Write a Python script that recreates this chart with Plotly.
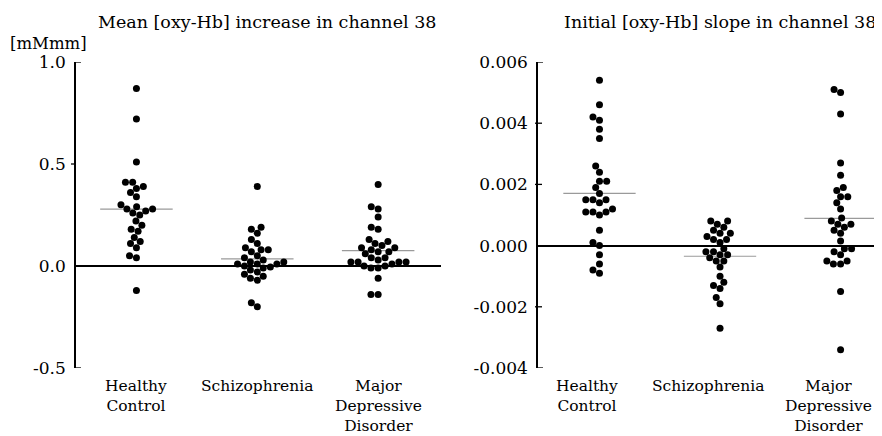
import numpy as np
import plotly.graph_objects as go

# ---------------- data ----------------
categories = ["Healthy<br>Control", "Schizophrenia", "Major<br>Depressive<br>Disorder"]

increase_hc = [0.87, 0.72, 0.51, 0.41, 0.41, 0.39, 0.38, 0.36, 0.34, 0.30, 0.29, 0.28, 0.28,
               0.27, 0.26, 0.25, 0.22, 0.20, 0.18, 0.17, 0.14, 0.12, 0.11, 0.09, 0.05, 0.04, -0.12]
increase_sz = [0.39, 0.19, 0.18, 0.16, 0.13, 0.11, 0.09, 0.08, 0.08, 0.07, 0.05, 0.04, 0.03,
               0.02, 0.02, 0.01, 0.01, 0.01, 0.0, -0.005, -0.01, -0.02, -0.03, -0.04, -0.05,
               -0.06, -0.07, -0.18, -0.20]
increase_mdd = [0.40, 0.29, 0.28, 0.24, 0.19, 0.18, 0.13, 0.12, 0.11, 0.10, 0.09, 0.09, 0.08,
                0.07, 0.07, 0.06, 0.04, 0.04, 0.03, 0.02, 0.02, 0.02, 0.02, 0.01, 0.0, 0.0,
                -0.01, -0.01, -0.06, -0.14, -0.14]

slope_hc = [0.0054, 0.0046, 0.0042, 0.0041, 0.0038, 0.0035, 0.0026, 0.0024, 0.0021, 0.0021,
            0.0019, 0.0017, 0.0015, 0.0015, 0.0015, 0.0014, 0.0012, 0.0011, 0.0011, 0.0011,
            0.0010, 0.0005, 0.0001, 0.0, -0.0003, -0.0006, -0.0008, -0.0009]
slope_sz = [0.0008, 0.0008, 0.0007, 0.0006, 0.0005, 0.0004, 0.0004, 0.0003, 0.0002, 0.0002,
            0.0001, -0.0001, -0.0002, -0.0002, -0.0003, -0.0003, -0.0004, -0.0005, -0.0005,
            -0.0007, -0.0010, -0.0012, -0.0013, -0.0014, -0.0017, -0.0019, -0.0027]
slope_mdd = [0.0051, 0.0050, 0.0043, 0.0027, 0.0023, 0.0019, 0.0018, 0.0016, 0.0016, 0.0014,
             0.0012, 0.0009, 0.0008, 0.0007, 0.0007, 0.0006, 0.0005, 0.0004, 0.00015, -0.0001,
             -0.0001, -0.0002, -0.0003, -0.0005, -0.0005, -0.0006, -0.0006, -0.0015, -0.0034]

left_tickvals = [-0.5, 0.0, 0.5, 1.0]
left_ticktext = ["-0.5", "0.0", "0.5", "1.0"]
right_tickvals = [-0.004, -0.002, 0.0, 0.002, 0.004, 0.006]
right_ticktext = ["-0.004", "-0.002", "0.000", "0.002", "0.004", "0.006"]

left_title = "Mean [oxy-Hb] increase in channel 38"
right_title = "Initial [oxy-Hb] slope in channel 38"
unit_label = "[mMmm]"

# ---------------- layout geometry ----------------
W, H = 882, 436
OFF = 8  # the page's default body margin shifts the figure by this many px
FONT = "DejaVu Serif"
top_px, bot_px = 62 - OFF, 368 - OFF
ydom = [1 - bot_px / H, 1 - top_px / H]
left_xdom = [(76 - OFF) / W, (441 - OFF) / W]
right_xdom = [(538 - OFF) / W, 1.0]
left_xrange = [-0.5, 2.52]
right_xrange = [-0.51, 2.41]
left_yrange = [-0.5, 1.0]
right_yrange = [-0.004, 0.006]

DIAM = 7.2  # swarm spacing in px


def swarm_offsets(values, px_per_y, px_per_x, diam=DIAM):
    vals = np.asarray(values, dtype=float)
    order = np.argsort(vals)
    placed = []
    xs = np.zeros(len(vals))
    for i in order:
        y = vals[i] * px_per_y
        cands = [0.0]
        for px, py in placed:
            dy = abs(py - y)
            if dy < diam:
                dx = np.sqrt(diam ** 2 - dy ** 2)
                cands += [px + dx, px - dx]
        cands.sort(key=lambda c: (abs(c), c))
        chosen = 0.0
        for c in cands:
            if all((c - px) ** 2 + (y - py) ** 2 >= diam ** 2 - 1e-6 for px, py in placed):
                chosen = c
                break
        xs[i] = chosen
        placed.append((chosen, y))
    return xs / px_per_x


fig = go.Figure()

# (x axis, y axis, groups, domain, x range, y range, tick values, label shift, tick span)
panels = [
    ("x", "y", [increase_hc, increase_sz, increase_mdd], left_xdom, left_xrange, left_yrange,
     left_tickvals, 0, (-5, 0)),
    ("x2", "y2", [slope_hc, slope_sz, slope_mdd], right_xdom, right_xrange, right_yrange,
     right_tickvals, -12, (-3, 4)),
]

plot_h = bot_px - top_px
shapes = []
annotations = []
for xa, ya, groups, xdom, xr, yr, tvals, lab_shift, tspan in panels:
    px_per_x = (xdom[1] - xdom[0]) * W / (xr[1] - xr[0])
    px_per_y = plot_h / (yr[1] - yr[0])
    for gi, vals in enumerate(groups):
        offs = swarm_offsets(vals, px_per_y, px_per_x)
        m = float(np.mean(vals))
        fig.add_trace(go.Scatter(
            x=[gi - 0.30, gi + 0.30], y=[m, m], mode="lines",
            line=dict(color="#9a9a9a", width=1.2),
            xaxis=xa, yaxis=ya, showlegend=False, hoverinfo="skip"))
        fig.add_trace(go.Scatter(
            x=gi + offs, y=vals, mode="markers",
            marker=dict(color="black", size=7, line=dict(width=0)),
            xaxis=xa, yaxis=ya, showlegend=False))
        annotations.append(dict(
            text=categories[gi], xref=xa, yref="paper", x=gi, xshift=lab_shift,
            y=1 - 367 / H, yanchor="top", xanchor="center", showarrow=False,
            align="center", font=dict(family=FONT, size=15.5, color="black")))
    # interior ticks; the axis ends get small inward brackets
    for v in tvals:
        if v == 0:
            continue
        inner = v not in (yr[0], yr[1])
        shapes.append(dict(
            type="line", xref=f"{xa} domain", yref=ya, xsizemode="pixel", xanchor=0,
            x0=tspan[0] if inner else 0, x1=tspan[1] if inner else 5, y0=v, y1=v,
            line=dict(color="black", width=1.3)))

xcommon = dict(tickvals=[0, 1, 2], ticktext=["", "", ""], showgrid=False, zeroline=False,
               showline=False, ticks="", fixedrange=True, automargin=False)
ycommon = dict(showgrid=False, showline=True, linecolor="black", linewidth=1.5,
               ticks="outside", ticklen=5, tickwidth=1, tickcolor="rgba(0,0,0,0)",
               zeroline=True, zerolinecolor="black", zerolinewidth=2, automargin=False,
               tickfont=dict(family=FONT, size=17, color="black"), fixedrange=True)

annotations += [
    dict(text=left_title, xref="paper", yref="paper", x=(267 - OFF) / W, y=1 - (22 - OFF) / H,
         showarrow=False, xanchor="center", yanchor="middle",
         font=dict(family=FONT, size=17.5, color="black")),
    dict(text=right_title, xref="paper", yref="paper", x=(720 - OFF) / W, y=1 - (22 - OFF) / H,
         showarrow=False, xanchor="center", yanchor="middle",
         font=dict(family=FONT, size=17.5, color="black")),
    dict(text=unit_label, xref="paper", yref="paper", x=0, y=1 - (43 - OFF) / H,
         showarrow=False, xanchor="left", yanchor="middle",
         font=dict(family=FONT, size=16.5, color="black")),
]

fig.update_layout(
    width=W, height=H,
    margin=dict(l=0, r=0, t=0, b=0, autoexpand=False),
    paper_bgcolor="white", plot_bgcolor="white",
    xaxis=dict(domain=left_xdom, range=left_xrange, anchor="y", **xcommon),
    yaxis=dict(domain=ydom, range=left_yrange, anchor="x",
               tickvals=left_tickvals, ticktext=left_ticktext, **ycommon),
    xaxis2=dict(domain=right_xdom, range=right_xrange, anchor="y2", **xcommon),
    yaxis2=dict(domain=ydom, range=right_yrange, anchor="x2",
                tickvals=right_tickvals, ticktext=right_ticktext, **ycommon),
    shapes=shapes,
    annotations=annotations,
)

fig.write_html("out.html")
